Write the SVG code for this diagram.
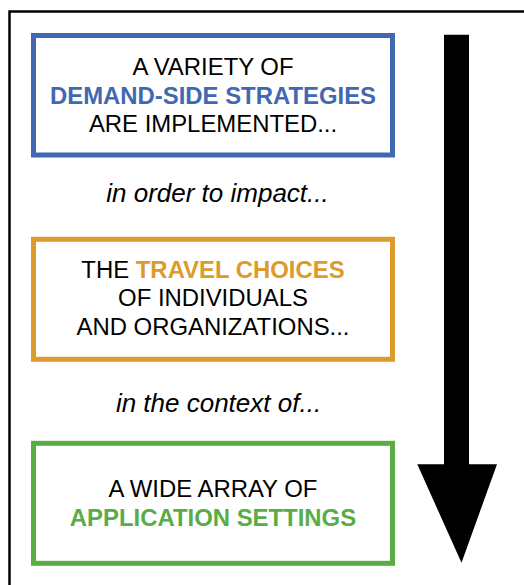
<svg xmlns="http://www.w3.org/2000/svg" width="524" height="585" viewBox="0 0 524 585">
<style>
.box{fill:#fff;stroke-width:5}
.t{font-family:"Liberation Sans",Arial,sans-serif;font-size:23.9px;text-anchor:middle;fill:#000}
.b{font-weight:bold}
.it{font-family:"Liberation Sans",Arial,sans-serif;font-size:26px;font-style:italic;text-anchor:middle;fill:#000}
</style>
<rect width="524" height="585" fill="#fff"/>
<rect id="frame" x="9.5" y="11.5" width="530" height="590" fill="none" stroke="#000" stroke-width="2.5"/>
<g id="connectors">
<path d="M444 34.7 H469 V464.3 H497 L461.5 562.7 L417.3 464.3 H444 Z" fill="#000"/>
</g>
<g id="strategies">
<rect class="box" x="33.5" y="35.5" width="359" height="119.5" stroke="#4169b1"/>
<text class="t" x="213" y="75">A VARIETY OF</text>
<text class="t b" x="213" y="103.5" style="fill:#4169b1">DEMAND-SIDE STRATEGIES</text>
<text class="t" x="213" y="132.3">ARE IMPLEMENTED...</text>
</g>
<g id="label1">
<text class="it" x="217.5" y="202.3">in order to impact...</text>
</g>
<g id="choices">
<rect class="box" x="33.5" y="239.3" width="359" height="120" stroke="#dc9b2a"/>
<text class="t" x="213" y="277.7">THE <tspan class="b" style="fill:#dc9b2a">TRAVEL CHOICES</tspan></text>
<text class="t" x="213" y="306">OF INDIVIDUALS</text>
<text class="t" x="213" y="335.3">AND ORGANIZATIONS...</text>
</g>
<g id="label2">
<text class="it" x="218.5" y="411.5">in the context of...</text>
</g>
<g id="settings">
<rect class="box" x="33.5" y="443.3" width="359" height="120" stroke="#58ad45"/>
<text class="t" x="213" y="496.7">A WIDE ARRAY OF</text>
<text class="t b" x="213" y="525.7" style="fill:#58ad45">APPLICATION SETTINGS</text>
</g>
</svg>
